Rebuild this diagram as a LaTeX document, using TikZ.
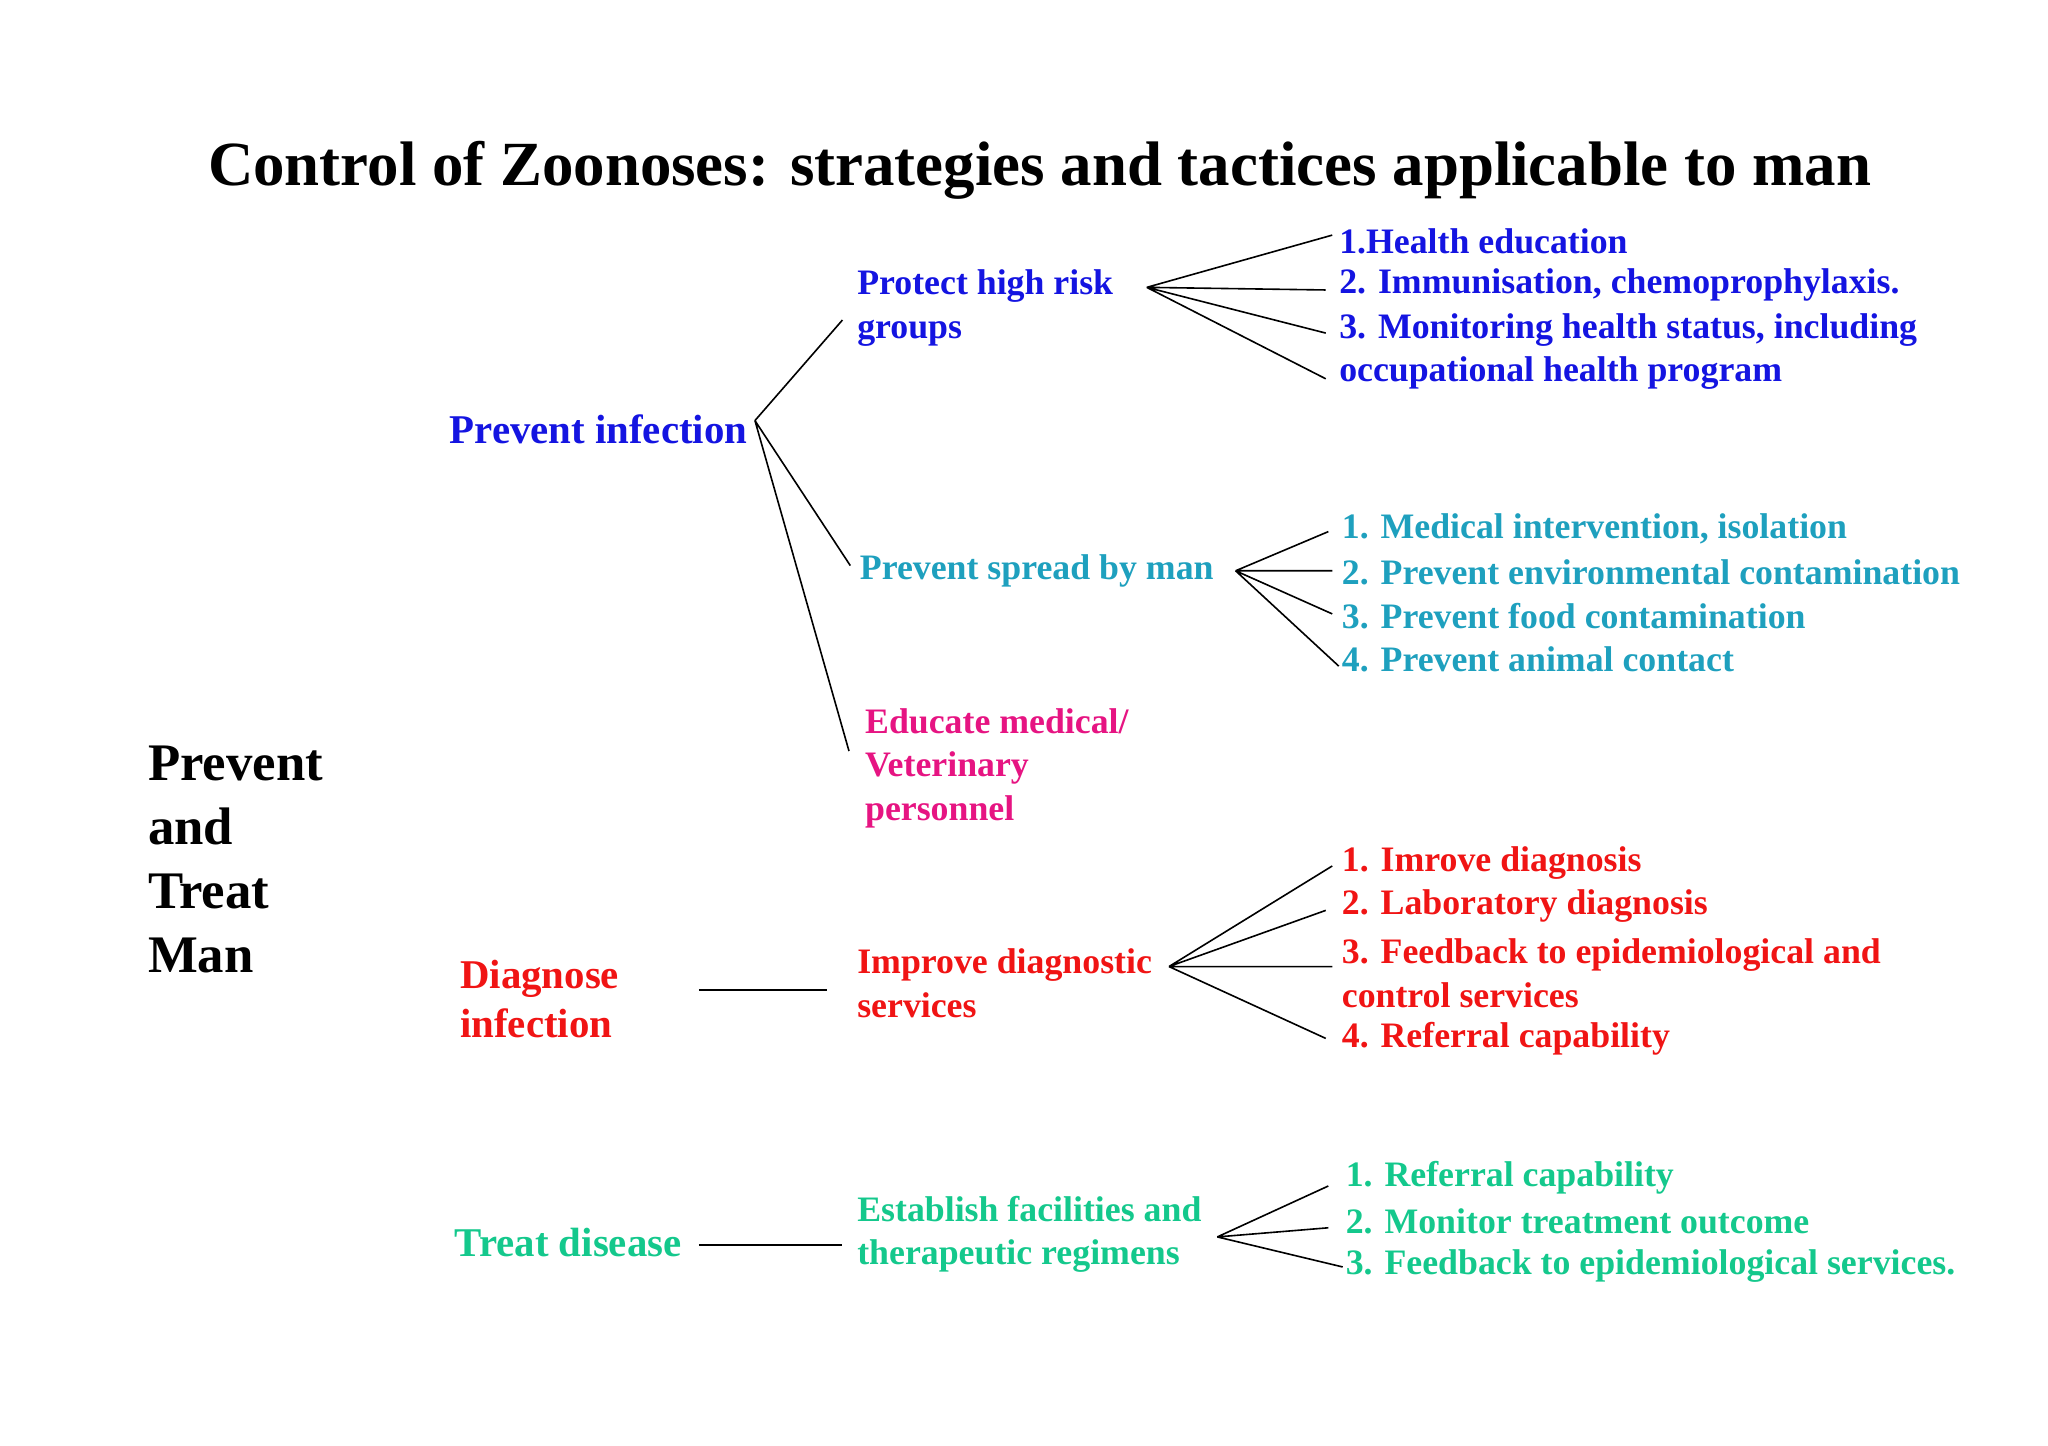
\documentclass[tikz,border=0pt]{standalone}
\usepackage{fontspec}
\setmainfont{Liberation Serif}
\definecolor{cb}{RGB}{20,20,225}
\definecolor{ct}{RGB}{30,160,190}
\definecolor{cm}{RGB}{230,20,130}
\definecolor{cr}{RGB}{240,20,20}
\definecolor{cg}{RGB}{20,200,140}
\begin{document}
\begin{tikzpicture}[x=0.02cm,y=-0.02cm,
 t/.style={anchor=west,align=left,inner sep=0,font=\bfseries\fontsize{15.6}{19}\selectfont},
 h/.style={anchor=west,align=left,inner sep=0,font=\bfseries\fontsize{17.8}{21.6}\selectfont},
 ln/.style={black,line width=0.7pt}]
\useasboundingbox (0,0) rectangle (1568,1107);
\node[inner sep=0,font=\bfseries\fontsize{27.4}{32}\selectfont] (title) at (796,130) {Control of Zoonoses: strategies and tactices applicable to man};
\node[anchor=west,align=left,inner sep=0,font=\bfseries\fontsize{23}{28}\selectfont] (pt) at (113,658) {Prevent\\and\\Treat\\Man};
% level 1
\node[h,text=cb] (pi) at (344,329) {Prevent infection};
\node[h,text=cr] (di) at (352,765) {Diagnose\\infection};
\node[h,text=cg] (td) at (348,951) {Treat disease};
% level 2
\node[t,text=cb] (ph) at (656,236) {Protect high risk\\groups};
\node[t,text=ct] (ps) at (658,437) {Prevent spread by man};
\node[t,text=cm] (em) at (662,588) {Educate medical/\\Veterinary\\personnel};
\node[t,text=cr] (id) at (656,753) {Improve diagnostic\\services};
\node[t,text=cg] (ef) at (656,945) {Establish facilities and\\therapeutic regimens};
% level 3
\node[t,text=cb] (a1) at (1025,185) {1.Health education};
\node[t,text=cb] (a2) at (1025,218) {2. Immunisation, chemoprophylaxis.};
\node[t,text=cb] (a3) at (1025,269) {3. Monitoring health status, including\\occupational health program};
\node[t,text=ct] (b1) at (1027,405) {1. Medical intervention, isolation};
\node[t,text=ct] (b2) at (1027,438) {2. Prevent environmental contamination};
\node[t,text=ct] (b3) at (1027,472) {3. Prevent food contamination};
\node[t,text=ct] (b4) at (1027,505) {4. Prevent animal contact};
\node[t,text=cr] (c1) at (1027,661) {1. Imrove diagnosis};
\node[t,text=cr] (c2) at (1027,694) {2. Laboratory diagnosis};
\node[t,text=cr] (c3) at (1027,745) {3. Feedback to epidemiological and\\control services};
\node[t,text=cr] (c4) at (1027,795) {4. Referral capability};
\node[t,text=cg] (d1) at (1030,902) {1. Referral capability};
\node[t,text=cg] (d2) at (1030,935) {2. Monitor treatment outcome};
\node[t,text=cg] (d3) at (1030,969) {3. Feedback to epidemiological services.};
% connectors
\coordinate (p0) at (578,322);
\draw[ln] (p0) -- (645,245) (p0) -- (651,433) (p0) -- (650,575);
\coordinate (q0) at (878,220);
\draw[ln] (q0) -- (1020,180) (q0) -- (1015,222) (q0) -- (1015,255) (q0) -- (1015,290);
\coordinate (r0) at (946,437);
\draw[ln] (r0) -- (1017,407) (r0) -- (1020,437) (r0) -- (1020,470) (r0) -- (1025,510);
\draw[ln] (535,758) -- (633,758);
\coordinate (s0) at (895,740);
\draw[ln] (s0) -- (1020,663) (s0) -- (1015,697) (s0) -- (1020,740) (s0) -- (1015,795);
\draw[ln] (535,953) -- (645,953);
\coordinate (u0) at (932,947);
\draw[ln] (u0) -- (1017,908) (u0) -- (1017,940) (u0) -- (1028,970);
\end{tikzpicture}
\end{document}
